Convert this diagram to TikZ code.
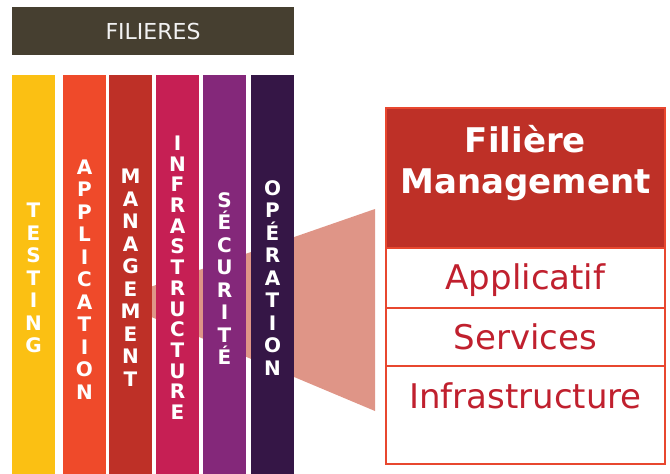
\documentclass[tikz,border=0pt]{standalone}
\usepackage{fontspec}
\setmainfont{DejaVu Sans}
\usepackage{xcolor}
\usepackage{tikz}
\usetikzlibrary{positioning}

\definecolor{brun}{HTML}{463F30}
\definecolor{jaune}{HTML}{FBC013}
\definecolor{orange}{HTML}{EF4A2A}
\definecolor{brique}{HTML}{BE3027}
\definecolor{framboise}{HTML}{C61F54}
\definecolor{violet}{HTML}{84287A}
\definecolor{aubergine}{HTML}{351646}
\definecolor{saumon}{HTML}{DF9587}
\definecolor{bord}{HTML}{E8472F}
\definecolor{texterouge}{HTML}{C0202E}

\begin{document}
\begin{tikzpicture}[x=1pt, y=-1pt,
		barre/.style={rectangle, minimum width=43pt, minimum height=399pt, inner sep=0pt, anchor=north},
		lettres/.style={text=white, font=\bfseries\fontsize{20}{22.5}\selectfont, align=center, inner sep=0pt},
		ligne/.style={rectangle, draw=bord, line width=1.5pt, outer sep=0pt, inner sep=0pt, minimum width=279pt, text=texterouge, font=\fontsize{34}{40}\selectfont}]
		\useasboundingbox (0,0) rectangle (670,474);
		
		% Loupe vers la fiche
		\fill[saumon] (130,294) -- (375,209) -- (375,411) -- (130,308) -- cycle;
		
		% Bandeau
		\node[rectangle, fill=brun, minimum width=282pt, minimum height=48pt, text=white!95!black, font=\fontsize{22}{26}\selectfont] (filieres) at (153,31) {FILIERES};
		
		% Filières
		\node[barre, fill=jaune] (testing) at (33.5,75) {};
		\node[barre, fill=orange] (application) at (84.5,75) {};
		\node[barre, fill=brique] (management) at (130.5,75) {};
		\node[barre, fill=framboise] (infrastructure) at (177.5,75) {};
		\node[barre, fill=violet] (securite) at (224.5,75) {};
		\node[barre, fill=aubergine] (operation) at (272.5,75) {};
		
		\node[lettres] (t-testing) at ([yshift=-3.5pt]testing.center) {T\\E\\S\\T\\I\\N\\G};
		\node[lettres] (t-application) at ([yshift=-5pt]application.center) {A\\P\\P\\L\\I\\C\\A\\T\\I\\O\\N};
		\node[lettres] (t-management) at ([yshift=-3pt]management.center) {M\\A\\N\\A\\G\\E\\M\\E\\N\\T};
		\node[lettres, font=\bfseries\fontsize{20}{20.7}\selectfont] (t-infrastructure) at ([yshift=-3pt]infrastructure.center) {I\\N\\F\\R\\A\\S\\T\\R\\U\\C\\T\\U\\R\\E};
		\node[lettres] (t-securite) at ([yshift=-4pt]securite.center) {S\\É\\C\\U\\R\\I\\T\\É};
		\node[lettres] (t-operation) at ([yshift=-3pt]operation.center) {O\\P\\É\\R\\A\\T\\I\\O\\N};
		
		% Fiche de la filière
		\node[ligne, fill=brique, minimum height=140pt] (entete) at (525.5,178) {};
		\node[text=white, font=\bfseries\fontsize{34}{41}\selectfont, align=center] (titre) at ([yshift=14.5pt]entete.center) {Filière\\Management};
		\node[ligne, minimum height=60pt, text height=26pt, text depth=3pt, below=0pt of entete] (applicatif) {Applicatif};
		\node[ligne, minimum height=58pt, below=0pt of applicatif] (services) {Services};
		\node[ligne, minimum height=98pt, text height=26pt, text depth=40pt, below=0pt of services] (infra) {Infrastructure};
		
	\end{tikzpicture}
\end{document}
